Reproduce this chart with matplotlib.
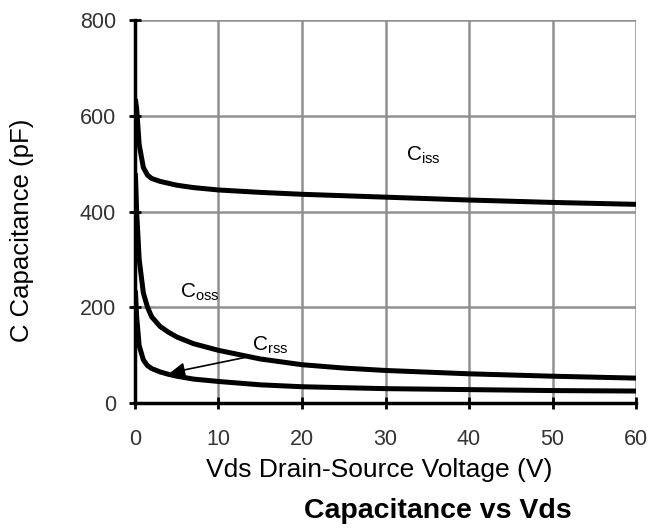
import matplotlib
matplotlib.use("Agg")
import matplotlib.pyplot as plt

plt.rcParams['font.family'] = ['Liberation Sans', 'DejaVu Sans']

vds = [0.05, 0.2, 0.5, 1, 1.5, 2, 3, 4, 5, 7, 10, 15, 20, 25, 30, 40, 50, 60]
ciss = [635, 615, 540, 492, 476, 469, 463, 459, 455, 450, 445, 440, 436, 433, 430, 424, 419, 415]
coss = [480, 400, 300, 230, 200, 180, 160, 148, 138, 124, 110, 92, 80, 73, 68, 61, 56, 52]
crss = [235, 180, 120, 90, 78, 72, 65, 60, 56, 50, 45, 38, 34, 32, 30, 28, 26, 25]

xticks = [0, 10, 20, 30, 40, 50, 60]
yticks = [0, 200, 400, 600, 800]

fig = plt.figure(figsize=(6.49, 5.30), dpi=100)
ax = fig.add_axes([0.208, 0.2396, 0.772, 0.7226])

for ys in (ciss, coss, crss):
    ax.plot(vds, ys, color='black', lw=3.6, solid_capstyle='butt', zorder=3)

ax.set_xlim(0, 60)
ax.set_ylim(0, 800)
ax.set_xticks(xticks)
ax.set_yticks(yticks)
ax.grid(True, color='#909090', lw=1.8, zorder=0)
ax.set_axisbelow(True)
for s in ('top', 'right'):
    ax.spines[s].set_visible(False)
for s in ('left', 'bottom'):
    ax.spines[s].set_linewidth(2.5)
    ax.spines[s].set_color('black')
ax.tick_params(axis='both', direction='inout', length=9, width=2, labelsize=15.5,
               labelcolor='#333333')
ax.tick_params(axis='x', pad=14)
ax.tick_params(axis='y', pad=9)

ax.text(34.5, 518, r'C$_{\mathregular{iss}}$', fontsize=15, ha='center', va='center')
ax.text(7.8, 232, r'C$_{\mathregular{oss}}$', fontsize=15, ha='center', va='center')
ax.text(16.2, 121, r'C$_{\mathregular{rss}}$', fontsize=15, ha='center', va='center')
ax.annotate('', xy=(4.2, 63), xytext=(13.4, 96),
            arrowprops=dict(arrowstyle='-|>', color='black', lw=1.2,
                            mutation_scale=22, shrinkA=0, shrinkB=0))

ax.set_xlabel('Vds Drain-Source Voltage (V)', fontsize=19)
ax.xaxis.set_label_coords(0.487, -0.143)
ax.set_ylabel('C Capacitance (pF)', fontsize=18.5, va='center')
ax.yaxis.set_label_coords(-0.225, 0.45)
fig.text(0.675, 0.036, 'Capacitance vs Vds', fontsize=20.5, fontweight='bold',
         ha='center', va='center')

fig.savefig('out.png', dpi=100)
